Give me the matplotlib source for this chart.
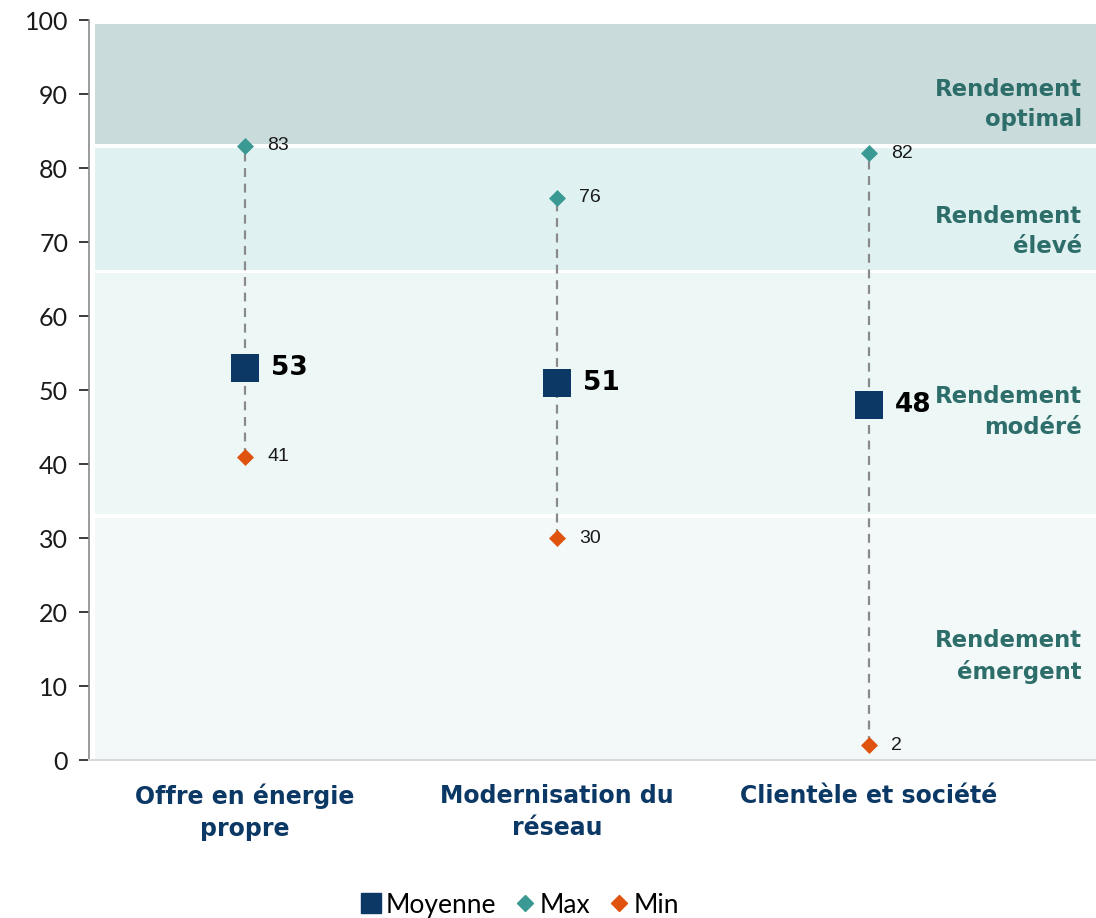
import matplotlib
matplotlib.use("Agg")
import matplotlib.pyplot as plt
from matplotlib.lines import Line2D

categories = ["Offre en énergie\npropre", "Modernisation du\nréseau", "Clientèle et société"]
moyenne = [53, 51, 48]
maximum = [83, 76, 82]
minimum = [41, 30, 2]

band_edges = [0, 33, 66, 83, 100]
band_colors = ["#F3F8F8", "#EDF7F6", "#E0F1F1", "#CADBDB"]
band_labels = ["Rendement\némergent", "Rendement\nmodéré", "Rendement\nélevé", "Rendement\noptimal"]
band_label_y = [14, 47, 71.4, 88.6]

navy = "#0B3864"
teal = "#3A9A93"
orange = "#E0530E"
band_text = "#2E6E6A"

plt.rcParams['font.family'] = ['Lato', 'DejaVu Sans']

fig = plt.figure(figsize=(10.96, 9.18), dpi=100)
ax = fig.add_axes([0.0812, 0.1721, 0.9188, 0.8061])

xmin, xmax = -0.5, 2.728
ax.set_xlim(xmin, xmax)
ax.set_ylim(0, 100)

bx0 = -0.48
for i in range(4):
    lo = band_edges[i] + (0.25 if i > 0 else 0)
    hi = band_edges[i + 1] - (0.25 if i < 3 else 0.5)
    ax.fill_between([bx0, xmax], lo, hi, color=band_colors[i], lw=0, zorder=0)
    ax.text(0.986, band_label_y[i], band_labels[i], transform=ax.get_yaxis_transform(),
            ha="right", va="center", fontsize=16.4, fontweight="bold", color=band_text,
            linespacing=1.42, zorder=1, family=["DejaVu Sans"])

x = list(range(len(categories)))
for xi, mn, mx, av in zip(x, minimum, maximum, moyenne):
    ax.plot([xi, xi], [mn, mx], ls=(0, (4, 3)), color="#8A8A8A", lw=1.6, zorder=2)
ax.scatter(x, maximum, marker="D", s=75, color=teal, zorder=3, linewidths=0)
ax.scatter(x, minimum, marker="D", s=75, color=orange, zorder=3, linewidths=0)
ax.scatter(x, moyenne, marker="s", s=420, color=navy, zorder=4, linewidths=0)

for xi, mn, mx, av in zip(x, minimum, maximum, moyenne):
    ax.annotate(str(mx), (xi, mx), xytext=(16, 0), textcoords="offset points",
                va="center", ha="left", fontsize=14, color="#1A1A1A", family=["Liberation Sans"])
    ax.annotate(str(mn), (xi, mn), xytext=(16, 0), textcoords="offset points",
                va="center", ha="left", fontsize=14, color="#1A1A1A", family=["Liberation Sans"])
    ax.annotate(str(av), (xi, av), xytext=(19, 0), textcoords="offset points",
                va="center", ha="left", fontsize=19, fontweight="bold", color="#000000",
                family=["DejaVu Sans"])

ax.set_xticks(x)
ax.set_xticklabels(categories, fontsize=17, fontweight="bold", color=navy, linespacing=1.42,
                   family=["DejaVu Sans"])
ax.tick_params(axis="x", length=0, pad=17)
ax.set_yticks(range(0, 101, 10))
ax.tick_params(axis="y", labelsize=18, colors="#1A1A1A", length=7, width=1.2, direction="out", pad=8)
for t in ax.get_yticklines():
    t.set_color("#8A8A8A")

ax.spines["top"].set_visible(False)
ax.spines["right"].set_visible(False)
ax.spines["left"].set_color("#8A8A8A")
ax.spines["left"].set_linewidth(1.2)
ax.spines["bottom"].set_color("#D9D9D9")
ax.spines["bottom"].set_linewidth(1.5)

handles = [
    Line2D([], [], marker="s", ls="", color=navy, markersize=14),
    Line2D([], [], marker="D", ls="", color=teal, markersize=8),
    Line2D([], [], marker="D", ls="", color=orange, markersize=8),
]
fig.legend(handles, ["Moyenne", "Max", "Min"], loc="center", bbox_to_anchor=(0.473, 0.014),
           ncol=3, frameon=False, fontsize=19, handletextpad=0.05, columnspacing=0.6,
           handlelength=1.0)

fig.savefig("out.png", dpi=100)
